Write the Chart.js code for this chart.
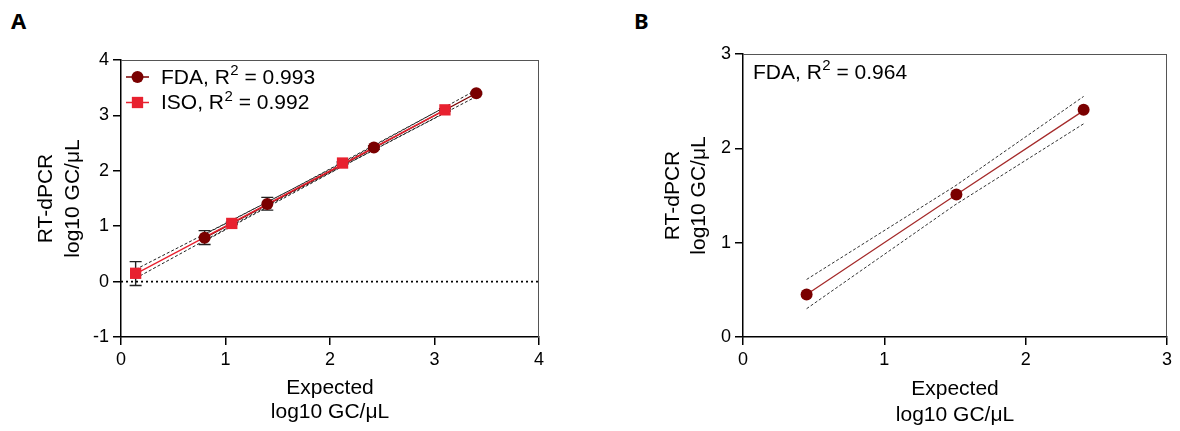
<!DOCTYPE html>
<html><head><meta charset="utf-8">
<script src="https://cdn.jsdelivr.net/npm/chart.js@4/dist/chart.umd.min.js"></script>
<style>
html,body{margin:0;padding:0;background:#fff;width:1180px;height:431px;overflow:hidden;position:relative;}
.lbl{position:absolute;font-family:"Noto Sans",sans-serif;font-weight:bold;font-size:22px;line-height:22px;color:#000;}
</style></head><body>
<div class="lbl" style="left:11px;top:9px">A</div>
<div class="lbl" style="left:634px;top:9px">B</div>
<canvas id="cA" width="590" height="431" style="position:absolute;left:0;top:0"></canvas>
<canvas id="cB" width="580" height="431" style="position:absolute;left:600px;top:0"></canvas>
<script>
// ---------- Panel A data ----------
const fdaLabel = 'FDA, R² = 0.993';
const fdaX = [0.80, 1.40, 2.42, 3.40];
const fdaY = [0.79, 1.40, 2.42, 3.40];
const fdaErrLow = [0.67, 1.29, 2.39, 3.38];
const fdaErrHigh = [0.92, 1.52, 2.45, 3.42];
const isoLabel = 'ISO, R² = 0.992';
const isoX = [0.14, 1.06, 2.12, 3.10];
const isoY = [0.15, 1.05, 2.14, 3.10];
const isoErrLow = [-0.07, 1.03, 2.12, 3.08];
const isoErrHigh = [0.36, 1.07, 2.16, 3.12];
const fdaFitX = [0.80, 2.10, 3.40];
const fdaFitY = [0.79, 2.09, 3.40];
const fdaBandUp = [0.85, 2.12, 3.46];
const fdaBandLo = [0.73, 2.06, 3.34];
const isoFitX = [0.14, 1.62, 3.10];
const isoFitY = [0.14, 1.62, 3.10];
const isoBandUp = [0.22, 1.65, 3.15];
const isoBandLo = [0.06, 1.59, 3.05];
const zeroLineX = [0, 4];
const zeroLineY = [0, 0];
const aXTicks = [0, 1, 2, 3, 4];
const aYTicks = [-1, 0, 1, 2, 3, 4];
// ---------- Panel B data ----------
const bLabel = 'FDA, R² = 0.964';
const bX = [0.45, 1.51, 2.41];
const bY = [0.45, 1.51, 2.41];
const bFitX = [0.45, 1.50, 2.41];
const bFitY = [0.45, 1.50, 2.40];
const bBandUp = [0.61, 1.60, 2.55];
const bBandLo = [0.30, 1.40, 2.26];
const bZeroX = [0, 3];
const bZeroY = [0, 0];
const bXTicks = [0, 1, 2, 3];
const bYTicks = [0, 1, 2, 3];

const xTitle = ['Expected', 'log10 GC/μL'];
const yTitle = ['RT-dPCR', 'log10 GC/μL'];

const FAM = "'Liberation Sans', Arial, Helvetica, sans-serif";
const DARK = '#7a0000';
const RED = '#e8212f';

function pts(xs, ys) { return xs.map((x, i) => ({x: x, y: ys[i]})); }

function axis(min, max, tickVals, title, titleLH, titlePad, size, isX) {
  return {
    type: 'linear', min: min, max: max,
    afterBuildTicks: s => { s.ticks = tickVals.map(v => ({value: v})); },
    ticks: {font: {family: FAM, size: 18}, color: '#000', padding: 4, maxRotation: 0, autoSkip: false},
    grid: {display: true, drawOnChartArea: false, drawTicks: true, tickLength: 8, color: '#000', lineWidth: 1.5},
    border: {display: true, color: '#000', width: 1.5},
    title: {display: true, text: title, color: '#000', font: {family: FAM, size: 21, lineHeight: titleLH}, padding: titlePad},
    afterFit: s => { if (isX) s.height = size; else s.width = size; }
  };
}

// draws a label, rendering the "²" as a raised smaller "2"
function drawSupText(ctx, text, x, y) {
  const parts = text.split('²');
  ctx.textBaseline = 'middle';
  ctx.textAlign = 'left';
  let cx = x;
  parts.forEach((p, i) => {
    ctx.font = "21px " + FAM;
    ctx.fillText(p, cx, y);
    cx += ctx.measureText(p).width;
    if (i < parts.length - 1) {
      ctx.font = "15px " + FAM;
      ctx.fillText('2', cx + 0.5, y - 7);
      cx += ctx.measureText('2').width + 0.5;
    }
  });
}

const frame = {
  id: 'frame',
  beforeDatasetsDraw(chart) {
    const {ctx, chartArea: a} = chart;
    ctx.save();
    ctx.strokeStyle = '#555';
    ctx.lineWidth = 1;
    ctx.beginPath();
    ctx.moveTo(a.left, a.top + 0.5); ctx.lineTo(a.right, a.top + 0.5);
    ctx.moveTo(a.right - 0.5, a.top); ctx.lineTo(a.right - 0.5, a.bottom);
    ctx.stroke();
    ctx.restore();
  }
};

const errorBars = {
  id: 'errorBars',
  beforeDatasetsDraw(chart) {
    const {ctx, scales: {x, y}} = chart;
    ctx.save();
    ctx.strokeStyle = '#222';
    ctx.lineWidth = 1.4;
    chart.data.datasets.forEach(ds => {
      if (!ds.errLow) return;
      ds.data.forEach((p, i) => {
        const px = x.getPixelForValue(p.x);
        const lo = y.getPixelForValue(ds.errLow[i]);
        const hi = y.getPixelForValue(ds.errHigh[i]);
        ctx.beginPath();
        ctx.moveTo(px, lo); ctx.lineTo(px, hi);
        ctx.moveTo(px - 6, lo); ctx.lineTo(px + 6, lo);
        ctx.moveTo(px - 6, hi); ctx.lineTo(px + 6, hi);
        ctx.stroke();
      });
    });
    ctx.restore();
  }
};

const legendA = {
  id: 'legendA',
  afterDraw(chart) {
    const {ctx} = chart;
    const rows = chart.data.datasets.filter(d => d.legendRow !== undefined).sort((a, b) => a.legendRow - b.legendRow);
    ctx.save();
    rows.forEach((ds, i) => {
      const yy = 77 + i * 25.5;
      ctx.strokeStyle = ds.borderColor;
      ctx.lineWidth = 1.5;
      ctx.beginPath(); ctx.moveTo(126, yy); ctx.lineTo(149, yy); ctx.stroke();
      ctx.fillStyle = ds.backgroundColor;
      ctx.beginPath();
      if (ds.pointStyle === 'rect') { const h = ds.pointRadius * Math.SQRT1_2; ctx.rect(137.5 - h, yy - h, 2 * h, 2 * h); }
      else { ctx.arc(137.5, yy, ds.pointRadius, 0, Math.PI * 2); }
      ctx.fill();
      ctx.fillStyle = '#000';
      drawSupText(ctx, ds.label, 161, yy + 1);
    });
    ctx.restore();
  }
};

const noteB = {
  id: 'noteB',
  afterDraw(chart) {
    const {ctx, chartArea: a} = chart;
    ctx.save();
    ctx.fillStyle = '#000';
    drawSupText(ctx, bLabel, a.left + 10, a.top + 19);
    ctx.restore();
  }
};

function lineDs(xs, ys, color, width, dash) {
  return {data: pts(xs, ys), showLine: true, borderColor: color, borderWidth: width, borderDash: dash || [], pointRadius: 0, fill: false, tension: 0};
}

const common = {
  responsive: false, animation: false, events: [],
  plugins: {legend: {display: false}, tooltip: {enabled: false}}
};

new Chart(document.getElementById('cA'), {
  type: 'scatter',
  data: {datasets: [
    {label: isoLabel, legendRow: 1, data: pts(isoX, isoY), pointStyle: 'rect', pointRadius: 8, backgroundColor: RED, borderColor: RED, borderWidth: 0, errLow: isoErrLow, errHigh: isoErrHigh},
    {label: fdaLabel, legendRow: 0, data: pts(fdaX, fdaY), pointStyle: 'circle', pointRadius: 6, backgroundColor: DARK, borderColor: DARK, borderWidth: 0, errLow: fdaErrLow, errHigh: fdaErrHigh},
    lineDs(isoFitX, isoFitY, RED, 1.3),
    lineDs(fdaFitX, fdaFitY, DARK, 1.3),
    lineDs(isoFitX, isoBandUp, '#222', 1, [3, 2]),
    lineDs(isoFitX, isoBandLo, '#222', 1, [3, 2]),
    lineDs(fdaFitX, fdaBandUp, '#222', 1, [3, 2]),
    lineDs(fdaFitX, fdaBandLo, '#222', 1, [3, 2]),
    lineDs(zeroLineX, zeroLineY, '#000', 1.8, [2, 3])
  ]},
  options: Object.assign({}, common, {
    layout: {padding: {top: 60, right: 51, left: 0, bottom: 0}},
    scales: {
      x: axis(0, 4, aXTicks, xTitle, '24px', {top: 0, bottom: 7}, 94, true),
      y: axis(-1, 4, aYTicks, yTitle, '27px', {top: 33, bottom: 0}, 121, false)
    }
  }),
  plugins: [frame, errorBars, legendA]
});

new Chart(document.getElementById('cB'), {
  type: 'scatter',
  data: {datasets: [
    {label: bLabel, data: pts(bX, bY), pointStyle: 'circle', pointRadius: 6, backgroundColor: DARK, borderColor: DARK, borderWidth: 0},
    lineDs(bFitX, bFitY, '#a52a2a', 1.3),
    lineDs(bFitX, bBandUp, '#333', 1, [3, 2]),
    lineDs(bFitX, bBandLo, '#333', 1, [3, 2]),
    lineDs(bZeroX, bZeroY, '#000', 1, [1, 2])
  ]},
  options: Object.assign({}, common, {
    layout: {padding: {top: 54, right: 13, left: 0, bottom: 0}},
    scales: {
      x: axis(0, 3, bXTicks, xTitle, '26px', {top: 0, bottom: 3}, 94, true),
      y: axis(0, 3, bYTicks, yTitle, '26px', {top: 60, bottom: 0}, 143, false)
    }
  }),
  plugins: [frame, noteB]
});
</script>
</body></html>
